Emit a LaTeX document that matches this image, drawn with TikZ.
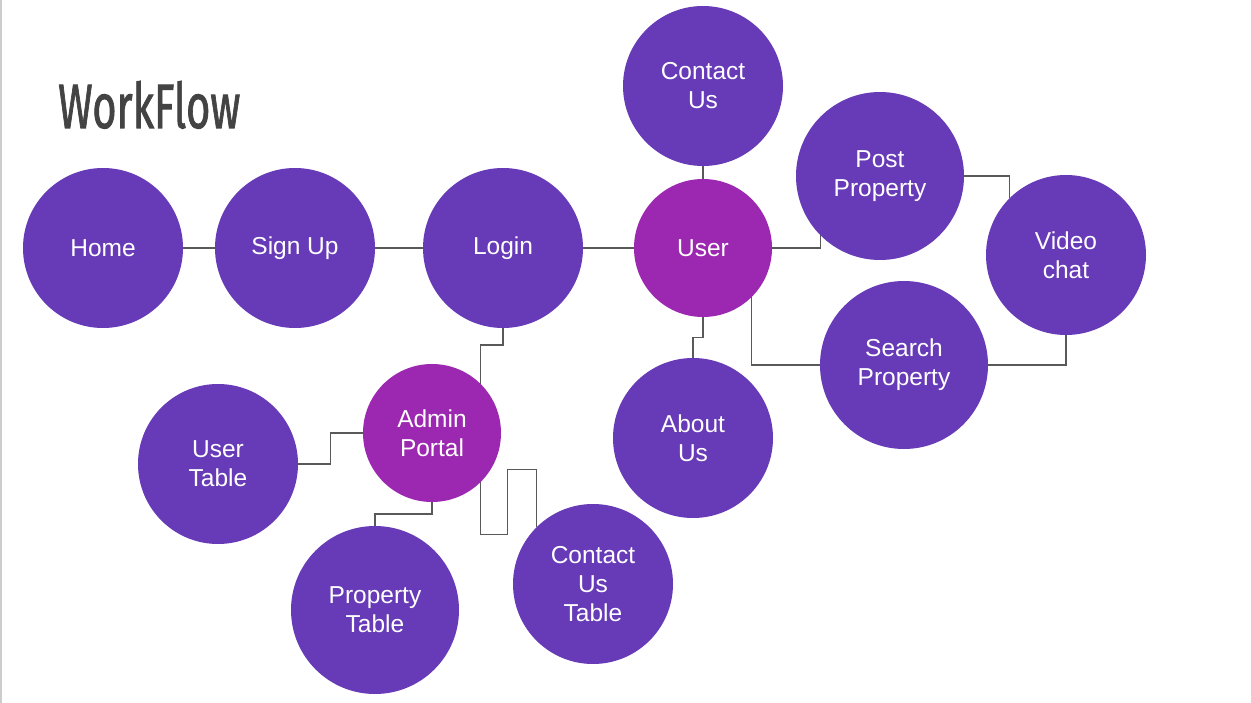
\documentclass[tikz,border=0pt]{standalone}
\usepackage{fontspec}
\usepackage{graphicx}
\newfontfamily\labelfont{Liberation Sans}
\newfontfamily\titlefont[FakeBold=1.6]{Fira Sans}
\usetikzlibrary{calc}
\definecolor{dpurple}{HTML}{673AB7}
\definecolor{mpurple}{HTML}{9C27B0}
\definecolor{linegray}{HTML}{595959}
\definecolor{titlegray}{HTML}{434343}
\tikzset{
  bubble/.style={circle, fill=dpurple, draw=none, inner sep=0pt, outer sep=0pt,
    minimum size=160pt, text=white, align=center,
    font=\labelfont\fontsize{24.5}{29}\selectfont},
  hub/.style={bubble, fill=mpurple, minimum size=138pt},
  big/.style={minimum size=168pt},
  conn/.style={draw=linegray, line width=1.3pt},
}
\begin{document}
\begin{tikzpicture}[x=1pt,y=-1pt]
\useasboundingbox (0,0) rectangle (1251,703);
\fill[white] (0,0) rectangle (1251,703);
\draw[gray!40, line width=1.5pt] (0.75,0) -- (0.75,703);
\node[anchor=base west, inner sep=0pt, text=titlegray] (title) at (58,128)
  {\resizebox{182pt}{47pt}{\titlefont WorkFlow}};

\node[bubble] (home) at (103,248) {Home};
\node[bubble] (signup) at (295,248) {Sign Up};
\node[bubble] (login) at (503,248) {Login};
\node[hub] (user) at (703,248) {User};
\node[bubble] (contact) at (703,86) {Contact\\Us};
\node[bubble, big] (post) at (880,176) {Post\\Property};
\node[bubble] (video) at (1066,255) {Video\\chat};
\node[bubble, big] (search) at (904,365) {Search\\Property};
\node[bubble] (about) at (693,438) {About\\Us};
\node[hub] (admin) at (432,433) {Admin\\Portal};
\node[bubble] (utable) at (218,464) {User\\Table};
\node[bubble, big] (ptable) at (375,610) {Property\\Table};
\node[bubble] (ctable) at (593,584) {Contact\\Us\\Table};

\draw[conn] (home) -- (signup);
\draw[conn] (signup) -- (login);
\draw[conn] (login) -- (user);
\draw[conn] (user) -- (contact);
\draw[conn] (user.east) -| (post.south west);
\draw[conn] (post.east) -| (video.north west);
\draw[conn] (user.south east) |- (search.west);
\draw[conn] (video.south) |- (search.east);
\draw[conn] (user.south) |- ($(user.south)!0.5!(about.north)$) -| (about.north);
\draw[conn] (login.south) -- ++(0,17) -| (admin.north east);
\draw[conn] (admin.west) -| ($(admin.west)!0.5!(utable.east)$) |- (utable.east);
\draw[conn] (admin.south) |- ($(admin.south)!0.5!(ptable.north)$) -| (ptable.north);
\draw[conn] (admin.south east) -- ++(0,53) -| ++(27,-65) -| (ctable.north west);
\end{tikzpicture}
\end{document}
